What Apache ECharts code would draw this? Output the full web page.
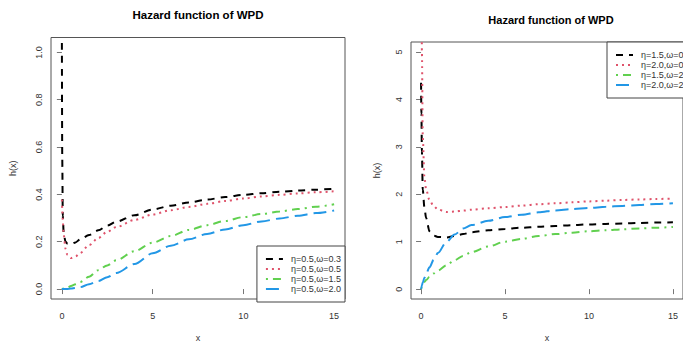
<!DOCTYPE html>
<html>
<head>
<meta charset="utf-8">
<script src="https://cdn.jsdelivr.net/npm/echarts@6/dist/echarts.min.js"></script>
<style>
html,body{margin:0;padding:0;background:#fff;}
#chart{width:683px;height:347px;}
</style>
</head>
<body>
<div id="chart"></div>
<script>
// ---------- data ----------
const xValues = [0, 0.02, 0.05, 0.1, 0.2, 0.3, 0.5, 0.75, 1, 1.5, 2, 2.5, 3, 4, 5, 6, 7, 8, 9, 10, 11, 12, 13, 14, 15];

// left panel: eta = 0.5
const leftNames = ['η=0.5,ω=0.3', 'η=0.5,ω=0.5', 'η=0.5,ω=1.5', 'η=0.5,ω=2.0'];
const leftW03 = [1.04, 0.55, 0.31, 0.235, 0.2, 0.192, 0.19, 0.197, 0.21, 0.228, 0.248, 0.268, 0.285, 0.312, 0.336, 0.352, 0.366, 0.378, 0.389, 0.398, 0.405, 0.411, 0.416, 0.42, 0.424];
const leftW05 = [0.378, 0.34, 0.29, 0.23, 0.17, 0.145, 0.131, 0.138, 0.152, 0.186, 0.215, 0.242, 0.262, 0.292, 0.315, 0.333, 0.347, 0.36, 0.372, 0.383, 0.391, 0.398, 0.404, 0.409, 0.413];
const leftW15 = [0, 0.0005, 0.001, 0.002, 0.004, 0.006, 0.013, 0.02, 0.03, 0.052, 0.08, 0.1, 0.122, 0.16, 0.196, 0.224, 0.25, 0.27, 0.288, 0.304, 0.317, 0.328, 0.338, 0.348, 0.358];
const leftW20 = [0, 0, 0, 0.0001, 0.0003, 0.0007, 0.002, 0.005, 0.008, 0.02, 0.034, 0.05, 0.068, 0.106, 0.151, 0.183, 0.21, 0.233, 0.252, 0.27, 0.286, 0.298, 0.31, 0.321, 0.332];

// right panel
const rightNames = ['η=1.5,ω=0.5', 'η=2.0,ω=0.5', 'η=1.5,ω=2.0', 'η=2.0,ω=2.0'];
const rightE15W05 = [4.35, 3.7, 2.9, 2.1, 1.72, 1.5, 1.22, 1.13, 1.1, 1.09, 1.12, 1.16, 1.2, 1.24, 1.27, 1.295, 1.315, 1.33, 1.35, 1.365, 1.375, 1.385, 1.395, 1.403, 1.41];
const rightE20W05 = [9, 7, 5.0, 3.2, 2.35, 2.1, 1.88, 1.75, 1.68, 1.625, 1.635, 1.655, 1.675, 1.705, 1.73, 1.76, 1.79, 1.81, 1.83, 1.85, 1.865, 1.88, 1.89, 1.9, 1.91];
const rightE15W20 = [0, 0.02, 0.05, 0.09, 0.15, 0.19, 0.26, 0.33, 0.39, 0.5, 0.61, 0.7, 0.78, 0.9, 1.0, 1.06, 1.12, 1.16, 1.19, 1.22, 1.24, 1.26, 1.28, 1.295, 1.31];
const rightE20W20 = [0, 0.03, 0.08, 0.14, 0.24, 0.32, 0.46, 0.62, 0.76, 0.99, 1.15, 1.28, 1.35, 1.44, 1.52, 1.57, 1.62, 1.66, 1.69, 1.71, 1.735, 1.755, 1.775, 1.793, 1.81];

// tick labels
const xTicks = [0, 5, 10, 15];
const leftYTicks = [0, 0.2, 0.4, 0.6, 0.8, 1.0];
const rightYTicks = [0, 1, 2, 3, 4, 5];
const titleText = 'Hazard function of WPD';

// ---------- styles ----------
const FONT = '"Liberation Sans", Arial, Helvetica, sans-serif';
const colors = ['#000000', '#DF536B', '#61D04F', '#2297E6'];
const dashes = [[7, 6], [2, 4], [2, 5, 8, 5], [13, 6]];
const leftSeriesData = [leftW03, leftW05, leftW15, leftW20];
const rightSeriesData = [rightE15W05, rightE20W05, rightE15W20, rightE20W20];

function pairs(xs, ys) { return xs.map((x, i) => [x, ys[i]]); }

function makeSeries(names, datas, idx) {
  return names.map((n, i) => ({
    name: n,
    type: 'line',
    xAxisIndex: idx,
    yAxisIndex: idx,
    data: pairs(xValues, datas[i]),
    symbol: 'none',
    showSymbol: false,
    smooth: 0.3,
    smoothMonotone: 'x',
    clip: true,
    animation: false,
    itemStyle: { color: colors[i] },
    lineStyle: { color: colors[i], width: 2, type: dashes[i] }
  }));
}

function xAxisOf(idx, gap) {
  return {
    gridIndex: idx, type: 'value', min: -0.6, max: 15.6,
    axisLine: { show: false },
    splitLine: { show: false },
    axisTick: { show: true, length: 5, lineStyle: { color: '#777' }, customValues: xTicks },
    axisLabel: { customValues: xTicks, margin: 12, fontSize: 9, color: '#333', fontFamily: FONT },
    name: 'x', nameLocation: 'middle', nameGap: gap,
    nameTextStyle: { fontSize: 9, color: '#333', fontFamily: FONT }
  };
}

function yAxisOf(idx, min, max, ticks, fmt, gap) {
  return {
    gridIndex: idx, type: 'value', min: min, max: max,
    axisLine: { show: false },
    splitLine: { show: false },
    axisTick: { show: true, length: 5, lineStyle: { color: '#777' }, customValues: ticks },
    axisLabel: { customValues: ticks, rotate: 90, margin: 8, fontSize: 9, color: '#333', fontFamily: FONT, formatter: fmt },
    name: 'h(x)', nameLocation: 'middle', nameGap: gap, nameRotate: 90,
    nameTextStyle: { fontSize: 9, color: '#333', fontFamily: FONT }
  };
}

function legendOf(names, pos) {
  return Object.assign({
    orient: 'vertical',
    data: names,
    selectedMode: false,
    itemWidth: 17, itemHeight: 10, itemGap: 0,
    padding: [8, 4, 8, 8],
    backgroundColor: '#fff',
    borderColor: '#444', borderWidth: 1, borderRadius: 0,
    itemStyle: { opacity: 0 },
    lineStyle: { width: 2, opacity: 1 },
    textStyle: { fontSize: 9, lineHeight: 10, color: '#333', fontFamily: FONT, padding: [0, 0, 0, 3] }
  }, pos);
}

const chart = echarts.init(document.getElementById('chart'), null, { renderer: 'svg' });
chart.setOption({
  animation: false,
  backgroundColor: '#fff',
  title: [
    { text: titleText, left: 198, top: 9, textAlign: 'center', padding: 0,
      textStyle: { fontSize: 11.5, fontWeight: 'bold', color: '#000', fontFamily: FONT } },
    { text: titleText, left: 551, top: 14, textAlign: 'center', padding: 0,
      textStyle: { fontSize: 11, fontWeight: 'bold', color: '#000', fontFamily: FONT } }
  ],
  grid: [
    { left: 51, right: 338, top: 37.5, bottom: 45, show: true, borderColor: '#555', borderWidth: 1, backgroundColor: 'transparent' },
    { left: 411, right: -7, top: 42, bottom: 44, show: true, borderColor: '#555', borderWidth: 1, backgroundColor: 'transparent' }
  ],
  xAxis: [xAxisOf(0, 34), xAxisOf(1, 34)],
  yAxis: [
    yAxisOf(0, -0.042, 1.063, leftYTicks, v => v.toFixed(1), 34),
    yAxisOf(1, -0.208, 5.21, rightYTicks, v => String(Math.round(v)), 30)
  ],
  legend: [
    legendOf(leftNames, { right: 338, top: 246 }),
    legendOf(rightNames, { left: 607, top: 42 })
  ],
  series: makeSeries(leftNames, leftSeriesData, 0).concat(makeSeries(rightNames, rightSeriesData, 1))
});
</script>
</body>
</html>
